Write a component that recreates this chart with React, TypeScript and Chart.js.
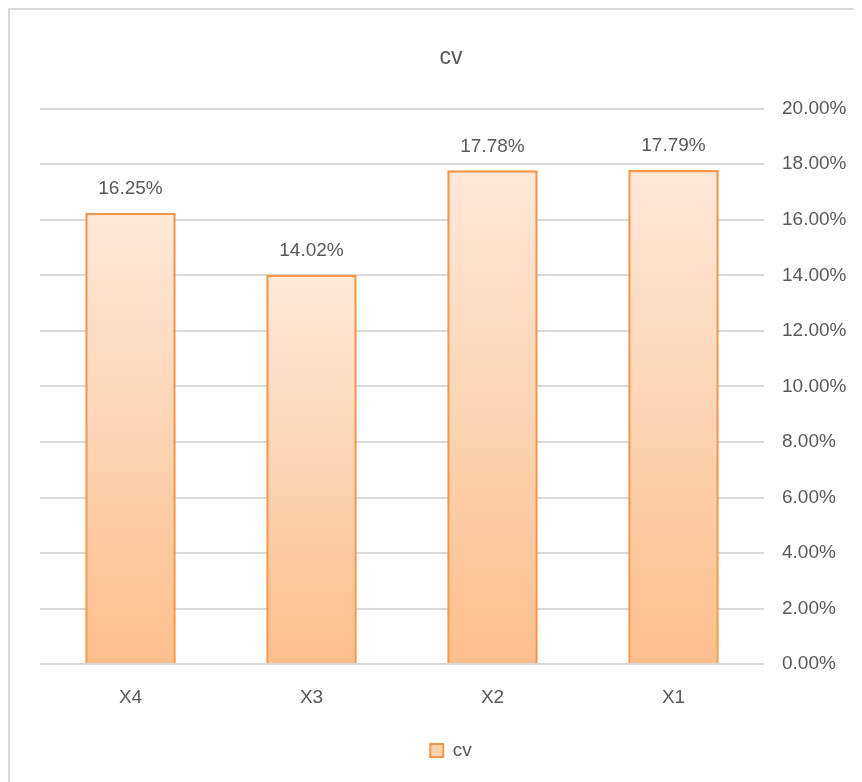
import React, { useEffect, useRef } from "react";
import { Chart, registerables } from "chart.js";

Chart.register(...registerables);

const categories = ["X4", "X3", "X2", "X1"];
const cvValues = [16.25, 14.02, 17.78, 17.79];
const seriesName = "cv";
const titleText = "cv";

const FONT = "'Liberation Sans', Arial, sans-serif";
const GRAY = "#595959";

const dataLabelPlugin = {
  id: "dataLabels",
  afterDatasetsDraw(chart: any) {
    const ctx = chart.ctx;
    const meta = chart.getDatasetMeta(0);
    ctx.save();
    ctx.font = `19px ${FONT}`;
    ctx.fillStyle = GRAY;
    ctx.textAlign = "center";
    ctx.textBaseline = "middle";
    meta.data.forEach((bar: any, i: number) => {
      const v = chart.data.datasets[0].data[i] as number;
      ctx.fillText(v.toFixed(2) + "%", bar.x, bar.y - 24);
    });
    ctx.restore();
  },
};

export default function App() {
  const ref = useRef<HTMLCanvasElement>(null);
  useEffect(() => {
    document.body.style.overflow = "hidden";
    const canvas = ref.current!;
    const chart = new Chart(canvas, {
      type: "bar",
      data: {
        labels: categories,
        datasets: [
          {
            label: seriesName,
            data: cvValues,
            backgroundColor: (c: any) => {
              const ch = c.chart;
              if (!ch.chartArea || c.type !== "data") return "#FCD2B0";
              const y = ch.scales.y;
              const top = y.getPixelForValue(c.parsed ? c.parsed.y : 0);
              const base = y.getPixelForValue(0);
              if (!isFinite(top) || !isFinite(base) || top === base) return "#FCD2B0";
              const g = ch.ctx.createLinearGradient(0, top, 0, base);
              g.addColorStop(0, "#FDE9DA");
              g.addColorStop(1, "#FCBF8C");
              return g;
            },
            borderColor: "#F79646",
            borderWidth: 2.5,
            barPercentage: 0.5,
            categoryPercentage: 1,
          },
        ],
      },
      options: {
        animation: false,
        responsive: false,
        maintainAspectRatio: false,
        devicePixelRatio: 1,
        layout: { padding: { left: 30, right: 0, top: 0, bottom: 12 } },
        plugins: {
          title: {
            display: true,
            text: titleText,
            color: GRAY,
            font: { family: FONT, size: 23, weight: "normal" },
            padding: { top: 34, bottom: 37 },
          },
          legend: {
            display: true,
            position: "bottom",
            labels: {
              color: GRAY,
              font: { family: FONT, size: 19 },
              boxWidth: 13,
              boxHeight: 13,
              padding: 10,
              generateLabels: () => [
                {
                  text: seriesName,
                  fillStyle: "#FCD2B0",
                  strokeStyle: "#F79646",
                  lineWidth: 2,
                  fontColor: GRAY,
                  datasetIndex: 0,
                } as any,
              ],
            },
          },
          tooltip: { enabled: false },
        },
        scales: {
          x: {
            grid: { display: false, drawTicks: false },
            border: { display: false },
            ticks: {
              color: GRAY,
              font: { family: FONT, size: 19 },
              padding: 22,
            },
          },
          y: {
            position: "right",
            min: 0,
            max: 20,
            grid: { color: "#D9D9D9", lineWidth: 2, drawTicks: false },
            border: { display: false },
            ticks: {
              stepSize: 2,
              color: GRAY,
              font: { family: FONT, size: 19 },
              padding: 18,
              callback: (v: any) => Number(v).toFixed(2) + "%",
            },
            afterFit: (s: any) => {
              s.width = 98;
            },
          },
        },
      },
      plugins: [dataLabelPlugin],
    });
    return () => chart.destroy();
  }, []);

  return (
    <div
      style={{
        borderTop: "2px solid #D9D9D9",
        borderLeft: "2px solid #D9D9D9",
        width: 852,
        height: 772,
        background: "#fff",
      }}
    >
      <canvas ref={ref} width={852} height={772} style={{ display: "block", width: 852, height: 772 }} />
    </div>
  );
}
